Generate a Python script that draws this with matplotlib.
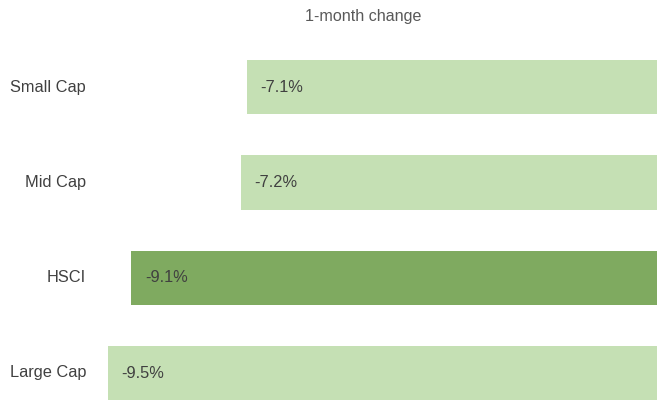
import matplotlib
matplotlib.use("Agg")
import matplotlib.pyplot as plt

categories = ["Large Cap", "HSCI", "Mid Cap", "Small Cap"]
values = [-9.5, -9.1, -7.2, -7.1]
colors = ["#c5e0b4", "#7faa60", "#c5e0b4", "#c5e0b4"]
title = "1-month change"

plt.rcParams['font.family'] = ['Liberation Sans', 'DejaVu Sans']

W, H = 657, 416
fig = plt.figure(figsize=(W / 100, H / 100), dpi=100)
ax = fig.add_axes([50 / W, 0, 1 - 50 / W, 1])

y = range(len(categories))
ax.barh(y, values, height=0.57, color=colors)
ax.set_xlim(-10.5, 0)
ax.set_ylim(-43 / 95.3, (H - 43) / 95.3)

for yi, v in zip(y, values):
    ax.text(v + 0.24, yi, f"{v:.1f}%", va="center", ha="left", fontsize=11.8, color="#404040")

for yi, c in zip(y, categories):
    fig.text(86 / W, (43 + yi * 95.3) / H, c, ha="right", va="center", fontsize=11.8, color="#404040")

fig.text(363 / W, 1 - 17 / H, title, ha="center", va="center", fontsize=11.6, color="#595959")

ax.axis("off")
fig.savefig("out.png", dpi=100)
